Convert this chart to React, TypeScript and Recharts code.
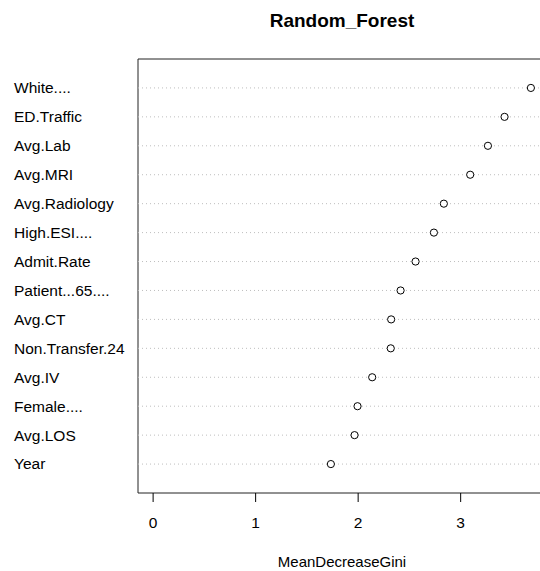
import React from 'react';
import { ScatterChart, Scatter, XAxis, YAxis, ReferenceLine, ReferenceArea } from 'recharts';

// variable importance, top to bottom as drawn
const features = [
    'White....', 'ED.Traffic', 'Avg.Lab', 'Avg.MRI', 'Avg.Radiology', 'High.ESI....', 'Admit.Rate',
    'Patient...65....', 'Avg.CT', 'Non.Transfer.24', 'Avg.IV', 'Female....', 'Avg.LOS', 'Year',
];
const giniValues = [3.685, 3.428, 3.266, 3.093, 2.836, 2.739, 2.56, 2.414, 2.322, 2.318, 2.137, 1.994, 1.965, 1.734];
const xTicks = [0, 1, 2, 3];

const n = features.length;
const data = features.map((name, i) => ({ name, gini: giniValues[i], row: n - i }));
const rowTicks = data.map(d => d.row);

const xMax = Math.max(...giniValues);
const xDomain = [-0.04 * xMax, xMax * 1.04];

const FONT = '"Liberation Sans", Arial, Helvetica, sans-serif';

const RowLabel = ({ y, payload }: any) => {
    const d = data.find(r => r.row === payload.value);
    return (
        <text x={14} y={y} dy="0.35em" textAnchor="start" fontSize={15.5} fill="#000" fontFamily={FONT}>
            {d ? d.name : ''}
        </text>
    );
};

const XTick = ({ x, payload }: any) => (
    <text x={x} y={528} textAnchor="middle" fontSize={15.5} fill="#000" fontFamily={FONT}>
        {payload.value}
    </text>
);

const OpenDot = ({ cx, cy }: any) => (
    <circle cx={cx} cy={cy} r={3.6} fill="#fff" stroke="#000" strokeWidth={1} />
);

const App: React.FC = () => {
    return (
        <div style={{ position: 'absolute', left: 0, top: 0, width: 540, height: 571, overflow: 'hidden', background: '#fff', fontFamily: FONT }}>
            <div style={{ position: 'absolute', top: 11, left: 342, transform: 'translateX(-50%)', fontSize: 19, lineHeight: '19px', fontWeight: 'bold', whiteSpace: 'nowrap' }}>
                Random_Forest
            </div>
            <ScatterChart width={560} height={571} margin={{ top: 59, right: 14, bottom: 48, left: 0 }}>
                <XAxis
                    type="number"
                    dataKey="gini"
                    domain={xDomain}
                    allowDataOverflow
                    ticks={xTicks}
                    height={30}
                    axisLine={false}
                    tickLine={{ stroke: '#000' }}
                    tickSize={9}
                    tick={<XTick />}
                />
                <YAxis
                    type="number"
                    dataKey="row"
                    domain={[0, n + 1]}
                    allowDataOverflow
                    ticks={rowTicks}
                    width={138}
                    axisLine={false}
                    tickLine={false}
                    tick={<RowLabel />}
                    interval={0}
                />
                {rowTicks.map(r => (
                    <ReferenceLine key={r} y={r} stroke="#bebebe" strokeDasharray="1 3" />
                ))}
                <ReferenceArea
                    x1={xDomain[0]}
                    x2={xDomain[1]}
                    y1={0}
                    y2={n + 1}
                    fill="none"
                    stroke="#222"
                    strokeWidth={1}
                    ifOverflow="visible"
                />
                <Scatter data={data} shape={<OpenDot />} isAnimationActive={false} />
            </ScatterChart>
            <div style={{ position: 'absolute', top: 554, left: 342, transform: 'translateX(-50%)', fontSize: 15, lineHeight: '15px', whiteSpace: 'nowrap' }}>
                MeanDecreaseGini
            </div>
        </div>
    );
};

export default App;
